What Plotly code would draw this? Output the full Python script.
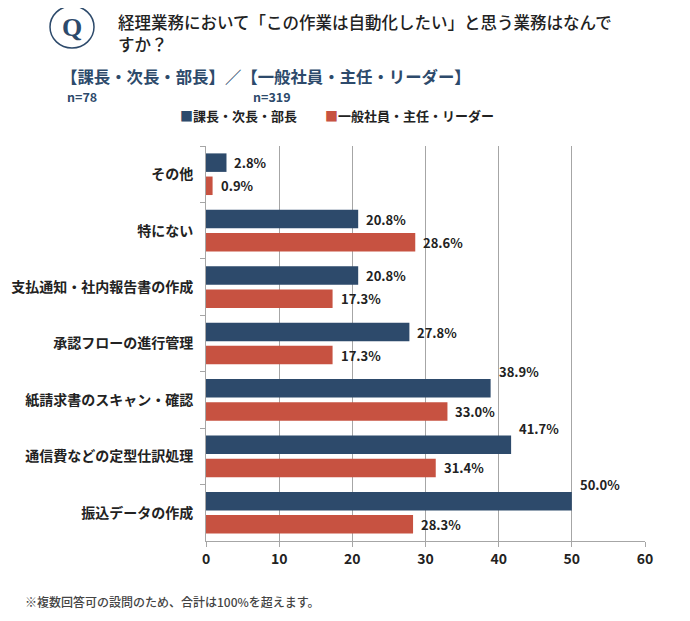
import plotly.graph_objects as go

categories = [
    "その他",
    "特にない",
    "支払通知・社内報告書の作成",
    "承認フローの進行管理",
    "紙請求書のスキャン・確認",
    "通信費などの定型仕訳処理",
    "振込データの作成",
]
managers = [2.8, 20.8, 20.8, 27.8, 38.9, 41.7, 50.0]
staff = [0.9, 28.6, 17.3, 17.3, 33.0, 31.4, 28.3]
series_names = ["課長・次長・部長", "一般社員・主任・リーダー"]
colors = ["#2d4a6b", "#c75241"]

FONT = "Noto Sans CJK JP"
OFF = 8  # page body margin
W, H = 690 - OFF, 621 - OFF
ML, MR, MT, MB = 206 - OFF, 45, 146 - OFF, 80
PW, PH = W - ML - MR, H - MT - MB


def px(x):
    # screen x -> paper x
    return (x - OFF - ML) / PW


def py(y):
    # screen y -> paper y
    return (H - MB - (y - OFF)) / PH


fig = go.Figure()
for name, vals, col in zip(series_names, [managers, staff], colors):
    fig.add_trace(
        go.Bar(
            y=categories,
            x=vals,
            orientation="h",
            name=name,
            marker=dict(color=col, line=dict(width=0)),
        )
    )

# value labels
for i, cat in enumerate(categories):
    for j, vals in enumerate([managers, staff]):
        v = vals[i]
        shift = 11.5 if j == 0 else -11.5
        if j == 0 and v > 35:
            shift = 28
        fig.add_annotation(
            x=v,
            y=cat,
            text=f"{v:.1f}%",
            showarrow=False,
            xanchor="left",
            xshift=6,
            yshift=shift,
            font=dict(family=FONT, size=13, color="#222222", weight="bold"),
        )

# Q badge
fig.add_shape(
    type="circle",
    xref="paper",
    yref="paper",
    x0=px(50),
    x1=px(94),
    y0=py(48),
    y1=py(6),
    line=dict(color="#2d4a6b", width=1.5),
)
fig.add_annotation(
    xref="paper", yref="paper", x=px(72), y=py(28), xanchor="center", yanchor="middle",
    text="<b>Q</b>", showarrow=False,
    font=dict(family="Liberation Serif", size=26, color="#2d4a6b"),
)
title_lines = ["経理業務において「この作業は自動化したい」と思う業務はなんで", "すか？"]
for line, ty in zip(title_lines, [22, 44]):
    fig.add_annotation(
        xref="paper", yref="paper", x=px(116), y=py(ty), xanchor="left", yanchor="middle",
        showarrow=False, text=line,
        font=dict(family=FONT, size=16.5, color="#222222", weight=500),
    )
fig.add_annotation(
    xref="paper", yref="paper", x=px(59), y=py(76), xanchor="left", yanchor="middle",
    showarrow=False,
    text="<b>【課長・次長・部長】／【一般社員・主任・リーダー】</b>",
    font=dict(family=FONT, size=16.4, color="#2d4a6b"),
)
fig.add_annotation(
    xref="paper", yref="paper", x=px(65), y=py(96), xanchor="left", yanchor="middle",
    showarrow=False, text="<b>n=78</b>",
    font=dict(family=FONT, size=12.5, color="#2d4a6b"),
)
fig.add_annotation(
    xref="paper", yref="paper", x=px(251), y=py(96), xanchor="left", yanchor="middle",
    showarrow=False, text="<b>n=319</b>",
    font=dict(family=FONT, size=12.5, color="#2d4a6b"),
)
# legend
legend_x = [178, 323]
for name, col, lx in zip(series_names, colors, legend_x):
    fig.add_annotation(
        xref="paper", yref="paper", x=px(lx), y=py(115), xanchor="left", yanchor="middle",
        showarrow=False,
        text=f'<span style="color:{col}">■</span>{name}',
        font=dict(family=FONT, size=13, color="#222222", weight="bold"),
    )
fig.add_annotation(
    xref="paper", yref="paper", x=px(23), y=py(601), xanchor="left", yanchor="middle",
    showarrow=False, text="※複数回答可の設問のため、合計は100%を超えます。",
    font=dict(family=FONT, size=12, color="#444444", weight=500),
)

fig.update_layout(
    width=W,
    height=H,
    margin=dict(l=ML, r=MR, t=MT, b=MB),
    paper_bgcolor="white",
    plot_bgcolor="white",
    barmode="group",
    bargap=0.18,
    bargroupgap=0.2,
    font=dict(family=FONT, color="#222222"),
    showlegend=False,
)
fig.update_xaxes(
    range=[0, 60],
    dtick=10,
    automargin=False,
    showgrid=True,
    gridcolor="#a6a6a6",
    gridwidth=1,
    showline=True,
    linecolor="#a6a6a6",
    ticks="outside",
    ticklen=5,
    tickcolor="#a6a6a6",
    zeroline=False,
    tickfont=dict(family=FONT, size=14, color="#222222", weight="bold"),
)
fig.update_yaxes(
    range=[len(categories) - 0.5, -0.5],
    automargin=False,
    showline=True,
    linecolor="#a6a6a6",
    ticks="outside",
    tickson="boundaries",
    ticklen=5,
    tickcolor="#a6a6a6",
    ticklabelstandoff=9,
    showgrid=False,
    tickfont=dict(family=FONT, size=14, color="#222222", weight="bold"),
)

fig.write_html("out.html")
